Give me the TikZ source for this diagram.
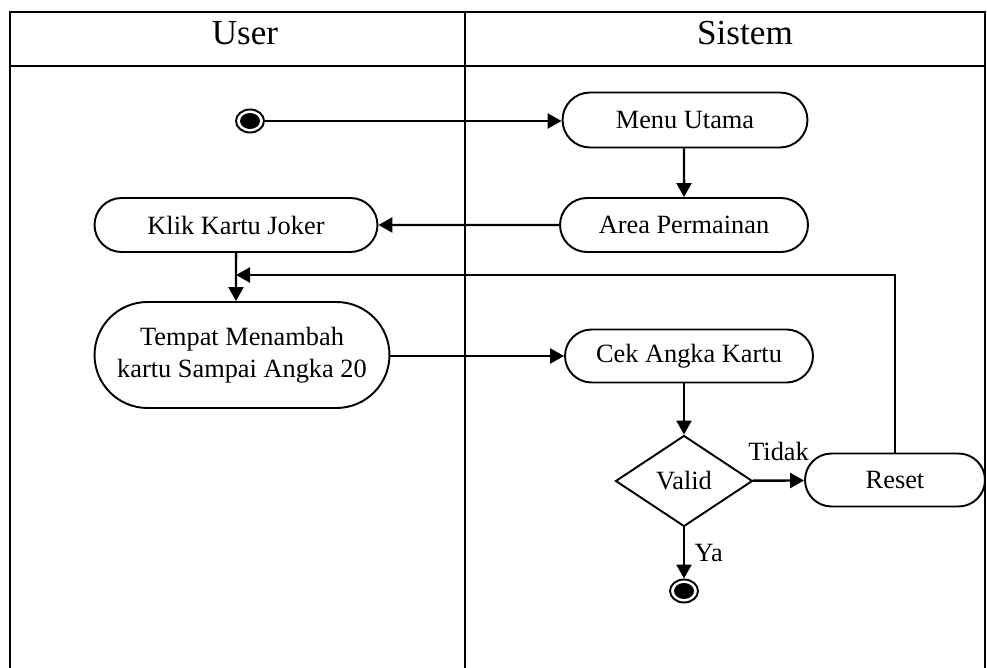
\documentclass[tikz,border=0pt]{standalone}
\usepackage{fontspec}
\setmainfont{Liberation Serif}
\usetikzlibrary{arrows.meta,shapes.misc,shapes.geometric}
\begin{document}
\begin{tikzpicture}[x=0.02cm,y=-0.02cm,
    aksi/.style={draw,line width=1.1pt,rounded rectangle,font=\fontsize{15}{18}\selectfont,align=center,inner sep=0pt},
    pilih/.style={draw,line width=1.1pt,diamond,aspect=1.5,font=\fontsize{15}{18}\selectfont,inner sep=1pt,minimum width=2.74cm,minimum height=1.82cm},
    titik/.style={draw,line width=1.1pt,ellipse,minimum width=0.56cm,minimum height=0.46cm,inner sep=0pt},
    panah/.style={line width=1.4pt,-{Triangle[length=0.28cm,width=0.3cm]}},
    label/.style={font=\fontsize{15}{18}\selectfont}]
    \useasboundingbox (0,0) rectangle (987,668);
    % swimlane
    \draw[line width=0.9pt] (10,668)--(10,12)--(985,12)--(985,668);
    \draw[line width=0.9pt] (10,66)--(985,66);
    \draw[line width=0.9pt] (465,12)--(465,668);
    \node (user) at (245,33) {\fontsize{20}{24}\selectfont User};
    \node (sistem) at (745,33) {\fontsize{20}{24}\selectfont Sistem};
    % start dan end
    \node[titik] (mulai) at (250,121) {};
    \fill (mulai) ellipse (0.2cm and 0.16cm);
    \node[titik] (selesai) at (684,591) {};
    \fill (selesai) ellipse (0.2cm and 0.16cm);
    % aktivitas
    \node[aksi,minimum width=4.9cm,minimum height=1.1cm] (menu) at (685,120) {Menu Utama};
    \node[aksi,minimum width=4.96cm,minimum height=1.08cm] (area) at (684,225) {Area Permainan};
    \node[aksi,minimum width=5.66cm,minimum height=1.08cm] (klik) at (236,225) {Klik Kartu Joker};
    \node[aksi,minimum width=5.9cm,minimum height=2.12cm] (tempat) at (242,355) {Tempat Menambah\\kartu Sampai Angka 20};
    \node[aksi,minimum width=4.96cm,minimum height=1.06cm] (cek) at (689,356) {Cek Angka Kartu};
    \node[pilih] (valid) at (684,481) {Valid};
    \node[aksi,minimum width=3.6cm,minimum height=1.06cm] (reset) at (895,480) {Reset};
    \coordinate (gabung) at (236,275);
    % alur
    \draw[panah] (mulai) -- (mulai -| menu.west);
    \draw[panah] (menu.south -| area) -- (area);
    \draw[panah] (area) -- (klik);
    \draw[panah] (klik) -- (klik |- tempat.north);
    \draw[panah] (reset.north) |- (gabung);
    \draw[panah] (tempat.east |- cek) -- (cek);
    \draw[panah] (cek.south -| valid) -- (valid);
    \draw[panah] (valid) -- (reset) node[label,pos=0.5,above=7pt] {Tidak};
    \draw[panah] (valid) -- (selesai) node[label,midway,right=2pt] {Ya};
\end{tikzpicture}
\end{document}
